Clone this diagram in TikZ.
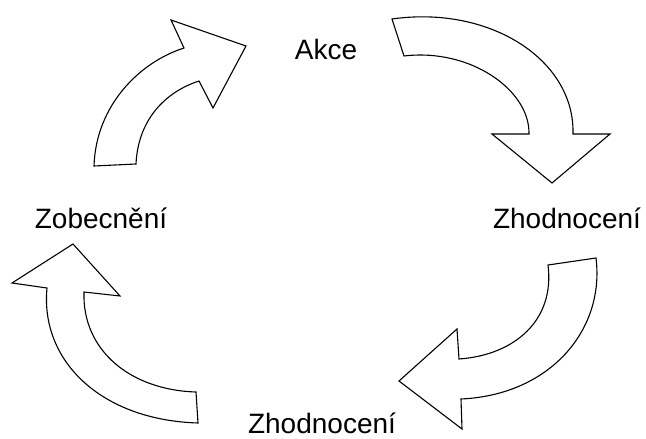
\documentclass[tikz,border=0pt]{standalone}
\usepackage{fontspec}
\setmainfont{Liberation Sans}
\usepackage{tikz}
\tikzset{
  blockarrow/.style={draw=black, fill=white, line width=1.1pt, line join=miter},
  steplabel/.style={font=\fontsize{28}{32}\selectfont, inner sep=0pt, anchor=base}
}

\begin{document}
\begin{tikzpicture}[x=1pt, y=-1pt]
			%%%%% START %%%%%
			
			\useasboundingbox (0, 0) rectangle (646, 439);
			
			% upper left arrow
			\draw[blockarrow] (94, 166) .. controls (96, 105) and (140, 62) .. (184, 48)
				-- (171, 20) -- (246, 46) -- (213, 108) -- (199, 81)
				.. controls (165, 92) and (138, 120) .. (136, 164) -- cycle;
			
			% upper right arrow
			\draw[blockarrow] (392, 19) .. controls (490, 5) and (575, 60) .. (573, 134)
				-- (610, 134) -- (552, 183) -- (492, 134) -- (529, 134)
				.. controls (530, 90) and (470, 48) .. (404, 56) -- cycle;
			
			% lower right arrow
			\draw[blockarrow] (596, 258) .. controls (605, 330) and (550, 395) .. (461, 399)
				-- (462, 429) -- (399, 381) -- (457, 329) -- (459, 359)
				.. controls (515, 355) and (555, 320) .. (548, 265) -- cycle;
			
			% lower left arrow
			\draw[blockarrow] (198, 423) .. controls (100, 420) and (40, 360) .. (47, 288)
				-- (12, 283) -- (73, 244) -- (120, 296) -- (84, 292)
				.. controls (82, 350) and (130, 390) .. (196, 392) -- cycle;
			
			% labels
			\node[steplabel] (akce) at (326, 59) {Akce};
			\node[steplabel] (zhodnoceni1) at (567, 228) {Zhodnocení};
			\node[steplabel] (zhodnoceni2) at (322, 433) {Zhodnocení};
			\node[steplabel] (zobecneni) at (101, 228) {Zobecnění};
			
			%%%%% END %%%%%
\end{tikzpicture}
\end{document}
